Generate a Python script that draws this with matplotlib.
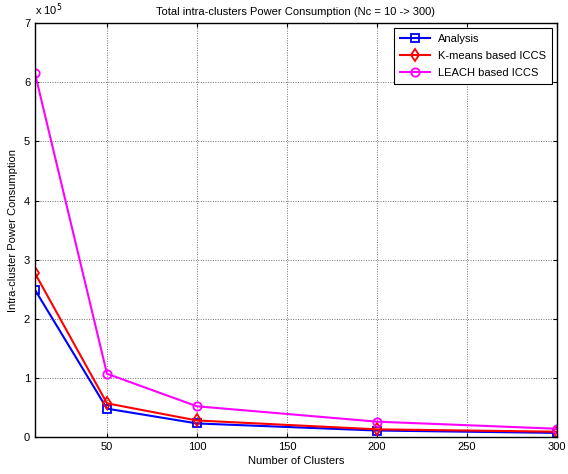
import numpy as np
import matplotlib.pyplot as plt

plt.rcParams["font.family"] = ["Liberation Sans", "DejaVu Sans"]

clusters = [10, 50, 100, 200, 300]
analysis = [2.49e5, 0.48e5, 0.23e5, 0.11e5, 0.07e5]
kmeans = [2.77e5, 0.57e5, 0.28e5, 0.13e5, 0.09e5]
leach = [6.15e5, 1.07e5, 0.52e5, 0.26e5, 0.14e5]

SCALE = 1e5

fig = plt.figure(figsize=(5.68, 4.74), dpi=100)
ax = fig.add_axes([0.0616, 0.078, 0.919, 0.873])

x = np.array(clusters)
ax.plot(x, np.array(analysis) / SCALE, color="blue", marker="s", mfc="none",
        ms=6, mew=1.3, lw=1.5, label="Analysis")
ax.plot(x, np.array(kmeans) / SCALE, color="red", marker="d", mfc="none",
        ms=6, mew=1.3, lw=1.5, label="K-means based ICCS")
ax.plot(x, np.array(leach) / SCALE, color="magenta", marker="o", mfc="none",
        ms=6, mew=1.3, lw=1.5, label="LEACH based ICCS")

ax.set_xlim(10, 300)
ax.set_ylim(0, 7)
ax.set_xticks([50, 100, 150, 200, 250, 300])
ax.set_yticks(range(0, 8))
ax.tick_params(direction="in", top=True, right=True, labelsize=8, length=3)
ax.grid(True, color="0.45", linestyle=(0, (1, 1.5)), linewidth=0.7)
for s in ax.spines.values():
    s.set_linewidth(1.0)

ax.text(0.0, 1.012, r"x 10$^5$", transform=ax.transAxes, fontsize=8,
        ha="left", va="bottom")
ax.set_title("Total intra-clusters Power Consumption (Nc = 10 -> 300)",
             fontsize=8, pad=6)
ax.set_xlabel("Number of Clusters", fontsize=8, labelpad=3)
ax.set_ylabel("Intra-cluster Power Consumption", fontsize=8, labelpad=4)

leg = ax.legend(loc="upper right", fontsize=8, fancybox=False, framealpha=1,
                edgecolor="black", borderaxespad=0.45, handlelength=2.7,
                labelspacing=0.65, borderpad=0.5)
leg.get_frame().set_linewidth(0.8)

fig.savefig("out.png", dpi=100)
